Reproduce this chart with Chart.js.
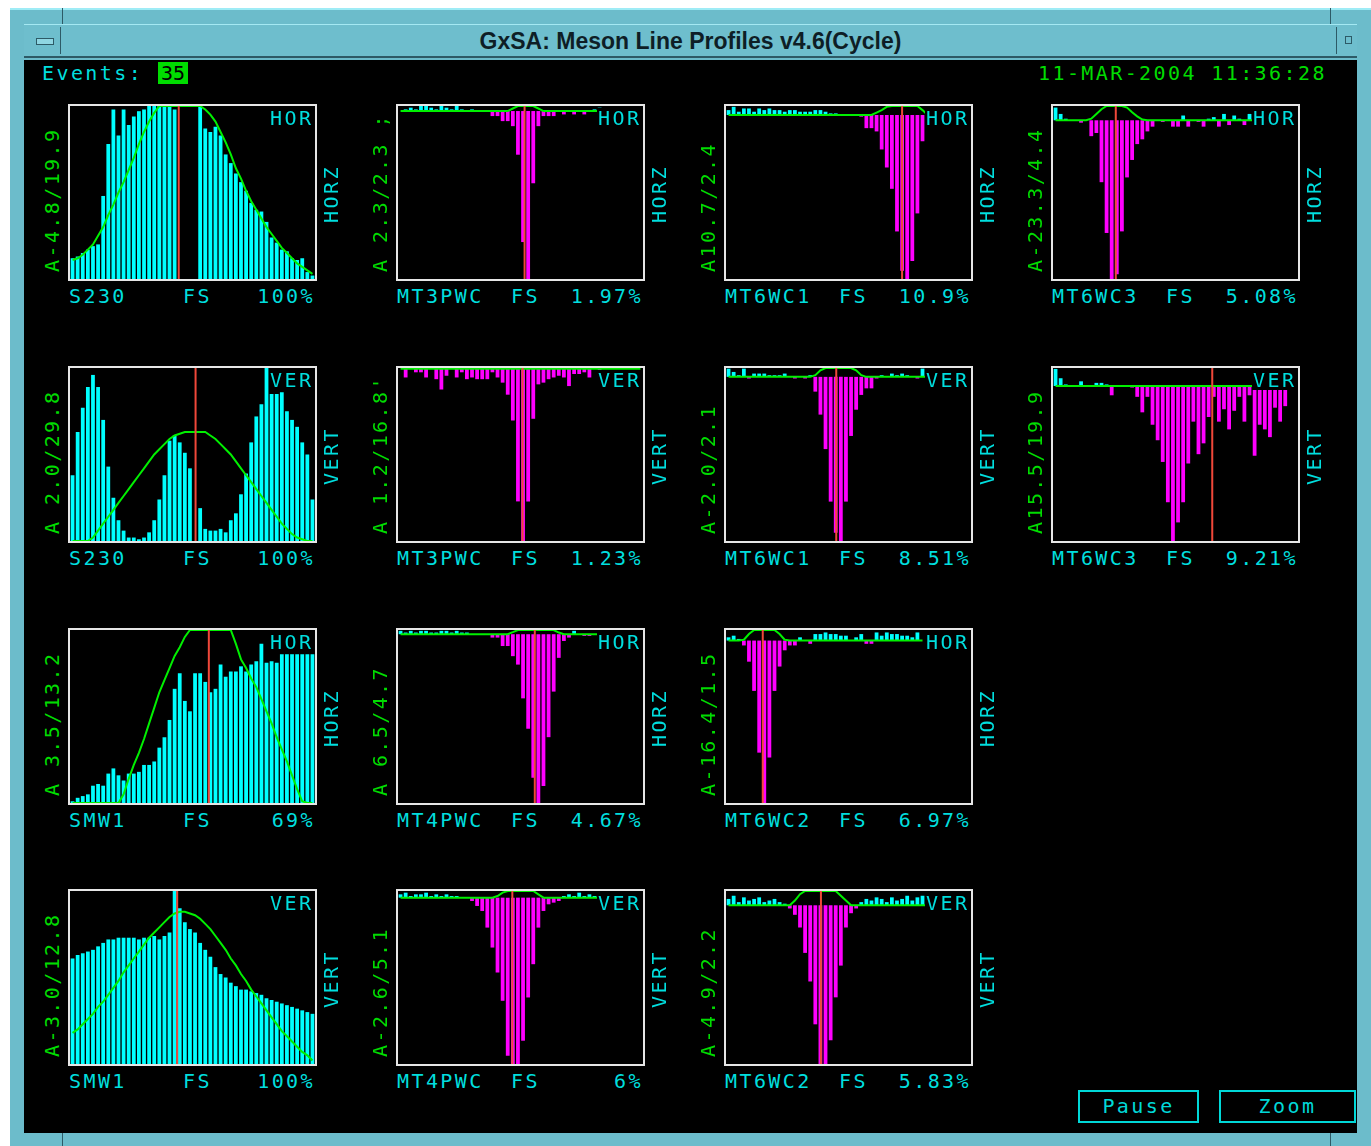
<!DOCTYPE html>
<html>
<head>
<meta charset="utf-8">
<script src="https://cdn.jsdelivr.net/npm/chart.js@4"></script>
<style>
  body { margin:0; width:1371px; height:1146px; background:#ffffff; overflow:hidden; position:relative; }
  .abs { position:absolute; }
  #frame { left:10px; top:8px; width:1361px; height:1138px; background:#6cbccb; border-top:2px solid #9fecf6; box-sizing:border-box; }
  #titlebar { left:24px; top:24px; width:1333px; height:34px; background:#6ebecd; border-top:1px solid #a4e8f2; border-bottom:2px solid #2d5a66; box-sizing:border-box;
    font:bold 23px 'Liberation Sans', Arial, sans-serif; color:#0e1e26; text-align:center; line-height:32px; }
  #client { left:24px; top:60px; width:1333px; height:1073px; background:#000; }
  .mono { font-family:'DejaVu Sans Mono', monospace; font-size:20px; line-height:20px; letter-spacing:2.4px; white-space:nowrap; }
  .cy { color:#00dede; }
  .gr { color:#00dc00; }
  .box { border:2px solid #e6e6e6; background:#000; }
  .rot { transform-origin:0 0; transform:rotate(-90deg); }
  .btn { border:2px solid #00d8d8; color:#00d8d8; text-align:center; box-sizing:border-box; line-height:28px; }
  .vline { width:1px; background:#2d5a66; }
</style>
</head>
<body>
<div id="frame" class="abs"></div>
<div class="abs vline" style="left:62px;top:8px;height:16px;"></div>
<div class="abs vline" style="left:1330px;top:8px;height:16px;"></div>
<div class="abs vline" style="left:62px;top:1133px;height:13px;"></div>
<div class="abs vline" style="left:1330px;top:1133px;height:13px;"></div>
<div id="titlebar" class="abs">GxSA: Meson Line Profiles v4.6(Cycle)</div>
<div class="abs" style="left:30px;top:27px;width:30px;height:27px;border-right:1px solid #2d5a66;"></div>
<div class="abs" style="left:36px;top:38px;width:16px;height:5px;border:1px solid #2d5a66;background:#8fd6e2;"></div>
<div class="abs" style="left:1336px;top:27px;width:1px;height:27px;background:#2d5a66;"></div>
<div class="abs" style="left:1345px;top:36px;width:5px;height:6px;border:1px solid #2d5a66;"></div>
<div id="client" class="abs"></div>

<div class="abs mono cy" style="left:42px;top:63px;">Events:</div>
<div class="abs mono" style="left:158px;top:62px;width:30px;height:22px;background:#00dc00;color:#000;letter-spacing:0;line-height:22px;text-align:center;">35</div>
<div class="abs mono gr" style="left:1038px;top:63px;">11-MAR-2004 11:36:28</div>

<div id="plots"></div>

<div class="abs mono btn" style="left:1078px;top:1090px;width:121px;height:33px;">Pause</div>
<div class="abs mono btn" style="left:1219px;top:1090px;width:137px;height:33px;">Zoom</div>

<script>
// histogram bins (48 per profile)
const bins = Array.from({ length: 48 }, (_, i) => String(i + 1));

// S230 horizontal
const s230Hor = [12,13,15,17,19,20,48,78,98,83,98,89,94,97,98,100,100,100,100,100,98,0,0,0,0,100,87,85,88,83,72,67,61,56,51,44,40,39,33,24,21,17,16,12,11,12,4,2];
const s230HorFit = [11,12,14,17,20,25,30,37,43,50,56,63,70,78,85,91,96,100,100,100,100,100,100,100,100,100,98,95,91,85,79,72,64,58,51,45,40,35,30,26,22,18,15,12,9,7,5,3];
// MT3PWC horizontal
const mt3pwcHor = [0,1,2,1,3,3,2,1,3,2,1,3,1,0,1,0,0,0,-3,-3,-6,-6,-9,-26,-78,-100,-43,-9,-3,-3,-3,0,-2,0,-2,0,-2,0,1,2,0,0,0,0,0,0,0,0];
const mt3pwcHorFit = [0,0,0,0,0,0,0,0,0,0,0,0,0,0,0,0,0,0,0,0,0,0,1.5,3,3,3,3,1.5,0,0,0,0,0,0,0,0,0,0,0,0,null,null,null,null,null,null,null,null];
// MT6WC1 horizontal
const mt6wc1Hor = [3,5,2,4,4,2,4,3,4,3,3,2,3,3,2,2,2,3,3,2,1,1,0,0,0,0,-1,-8,-8,-10,-21,-32,-45,-71,-95,-100,-89,-60,-16,0,0,0,0,0,0,0,0,0];
const mt6wc1HorFit = [0,0,0,0,0,0,0,0,0,0,0,0,0,0,0,0,0,0,0,0,0,0,0,0,0,0,0,0,0,1.5,3,5,5.5,5.5,5.5,5.5,5.5,5.5,3,0,null,null,null,null,null,null,null,null];
// MT6WC3 horizontal
const mt6wc3Hor = [8,4,1,0,0,-1.5,0,-10,-8,-39,-71,-100,-97,-70,-36,-25,-15,-12,-7,-4,0,-1,0,-4,-4,3,-4,0,-1,-4,1,2,-4,4,-3,3,1,-3,4,0,0,0,0,0,0,0,0,0];
const mt6wc3HorFit = [0,0,0,0,0,0,0,1,4,7,9,9,9,9,8,5,2.5,0.5,0,0,0,0,0,0,0,0,0,0,0,0,0,0,0,0,0,0,0,0,0,0,null,null,null,null,null,null,null,null];
// S230 vertical
const s230Ver = [38,63,77,89,96,89,70,43,25,12,6,2,2,1,2,5,12,24,38,58,61,57,51,42,0,19,7,6,6,7,5,12,16,27,39,57,72,79,100,85,85,86,75,70,66,57,50,24];
const s230VerFit = [0,0,0,0,2,6,10,14,18,22,26,30,34,38,42,46,50,53,56,59,61,62,63,63,63,63,63,61,59,56,53,50,46,42,38,34,30,26,22,18,14,10,7,4,2,1,0,0];
// MT3PWC vertical
const mt3pwcVer = [0,-5,0,-2,-2,-5,0,-6,-12,-4,0,-5,-2,-6,-5,-6,-6,-6,-2,-5,-8,-15,-30,-77,-100,-77,-29,-9,-8,-6,-5,-4,-5,-10,-3,-3,-2,-5,0,-4,0,0,0,0,0,0,0,0];
const mt3pwcVerFit = [0,0,0,0,0,0,0,0,0,0,0,0,0,0,0,0,0,0,0,0,0,0,0,0,0,0,0,0,0,0,0,0,0,0,0,0,0,0,0,0,0,0,0,0,0,0,0,0];
// MT6WC1 vertical
const mt6wc1Ver = [5,3,1,5,-1,2,2,2,1,1,1,2,0,-1,0,-1,1,-9,-23,-44,-76,-95,-100,-76,-36,-20,-11,-7,-7,-1,1,0,2,1,2,1,0,-1,5,0,0,0,0,0,0,0,0,0];
const mt6wc1VerFit = [0,0,0,0,0,0,0,0,0,0,0,0,0,0,0,0,0,1,4,5.4,5.4,5.4,5.4,5.4,5.4,4,1,0,0,0,0,0,0,0,0,0,0,0,0,0,null,null,null,null,null,null,null,null];
// MT6WC3 vertical
const mt6wc3Ver = [11,5,1,0,0,3,0,0,2,2,1,-6,0,0,0,-1,-7,-17,-7,-25,-35,-49,-75,-100,-88,-75,-50,-23,-44,-37,-20,-7,-23,-15,-28,-16,-7,-23,-6,-45,-25,-28,-33,-14,-23,-13,0,0];
const mt6wc3VerFit = [0,0,0,0,0,0,0,0,0,0,0,0,0,0,0,0,0,0,0,0,0,0,0,0,0,0,0,0,0,0,0,0,0,0,0,0,0,0,0,0,null,null,null,null,null,null,null,null];
// SMW1 horizontal
const smw1Hor = [1,3,4,5,10,11,10,17,20,16,13,17,17,18,22,22,24,32,38,48,66,75,59,53,75,75,70,64,66,80,73,76,76,79,76,80,82,92,81,82,81,86,86,86,86,86,86,86];
const smw1HorFit = [0,0,0,0,0,0,0,0,0,0,5,14,22,29,37,46,55,64,71,78,85,90,96,100,100,100,100,100,100,100,100,100,92,83,78,72,67,60,53,46,38,31,24,16,8,1,0,0];
// MT4PWC horizontal
const mt4pwcHor = [2,1,2,1,2,2,1,1,2,2,1,2,1,1,0,0,0,0,-2,-2,-7,-7,-13,-18,-38,-56,-85,-100,-90,-61,-34,-14,-4,-2,2,0,-1,-1,0,0,0,0,0,0,0,0,1,0];
const mt4pwcHorFit = [0,0,0,0,0,0,0,0,0,0,0,0,0,0,0,0,0,0,0,0,0,0,1.2,2.5,2.5,2.5,2.5,2.5,2.5,2.5,2.5,1,0,0,0,0,0,0,0,0,null,null,null,null,null,null,null,null];
// MT6WC2 horizontal
const mt6wc2Hor = [2,3,1,-3,-13,-31,-69,-100,-72,-31,-16,-6,-3,-3,2,0,-2,4,4,5,4,4,3,3,0,2,4,-2,-2,5,3,5,4,4,3,3,2,5,0,0,0,0,0,0,0,0,0,0];
const mt6wc2HorFit = [0,0,0,0.5,4,6.5,6.5,6.5,6.5,6.5,4,0.5,0,0,0,0,0,0,0,0,0,0,0,0,0,0,0,0,0,0,0,0,0,0,0,0,0,0,0,null,null,null,null,null,null,null,null,null];
// SMW1 vertical
const smw1Ver = [61,63,64,65,66,68,70,72,72,73,73,73,73,72,73,73,74,72,74,76,100,90,82,78,76,70,66,62,56,52,50,47,45,43,43,42,41,40,38,37,36,35,34,33,32,31,30,29];
const smw1VerFit = [18,20,23,26,29,33,36,40,44,48,53,57,61,65,69,73,76,79,82,85,87,88,88,87,86,84,81,78,74,70,66,61,57,52,48,43,39,35,31,27,23,19,16,13,10,7,5,2];
// MT4PWC vertical
const mt4pwcVer = [2,3,1,2,2,3,1,2,1,2,1,1,0,0,-2,-5,-8,-18,-30,-45,-62,-95,-100,-100,-86,-60,-40,-18,-8,-4,-3,-2,1,2,1,3,1,2,1,0,0,0,0,0,0,0,0,0];
const mt4pwcVerFit = [0,0,0,0,0,0,0,0,0,0,0,0,0,0,0,0,0,0,0,1,3,4,4,4,4,4,4,2,0,0,0,0,0,0,0,0,0,0,0,0,null,null,null,null,null,null,null,null];
// MT6WC2 vertical
const mt6wc2Ver = [4,6,2,5,3,4,5,2,3,4,2,1,-2,-6,-14,-30,-48,-75,-100,-100,-85,-58,-38,-14,-5,-2,2,4,3,5,4,2,5,3,4,6,3,5,6,0,0,0,0,0,0,0,0,0];
const mt6wc2VerFit = [0,0,0,0,0,0,0,0,0,0,0,0,0,3,7,9,9,9,9,9,9,9,6,3,0,0,0,0,0,0,0,0,0,0,0,0,0,0,0,0,null,null,null,null,null,null,null,null];

const histograms = [s230Hor, mt3pwcHor, mt6wc1Hor, mt6wc3Hor, s230Ver, mt3pwcVer, mt6wc1Ver, mt6wc3Ver, smw1Hor, mt4pwcHor, mt6wc2Hor, smw1Ver, mt4pwcVer, mt6wc2Ver];
const fits = [s230HorFit, mt3pwcHorFit, mt6wc1HorFit, mt6wc3HorFit, s230VerFit, mt3pwcVerFit, mt6wc1VerFit, mt6wc3VerFit, smw1HorFit, mt4pwcHorFit, mt6wc2HorFit, smw1VerFit, mt4pwcVerFit, mt6wc2VerFit];
const detectors = ['S230','MT3PWC','MT6WC1','MT6WC3','S230','MT3PWC','MT6WC1','MT6WC3','SMW1','MT4PWC','MT6WC2','SMW1','MT4PWC','MT6WC2'];
const planes = ['HOR','HOR','HOR','HOR','VER','VER','VER','VER','HOR','HOR','HOR','VER','VER','VER'];
const fullScale = ['100%','1.97%','10.9%','5.08%','100%','1.23%','8.51%','9.21%','69%','4.67%','6.97%','100%','6%','5.83%'];
const axisTags = ['A-4.8/19.9','A 2.3/2.3 ;','A10.7/2.4','A-23.3/4.4','A 2.0/29.8','A 1.2/16.8\'','A-2.0/2.1','A15.5/19.9','A 3.5/13.2','A 6.5/4.7','A-16.4/1.5','A-3.0/12.8','A-2.6/5.1','A-4.9/2.2'];
const meanBin = [20.8, 24.3, 34, 11.8, 24.1, 23.9, 21.1, 30.7, 26.7, 26.3, 6.7, 20.5, 21.9, 18.1];
const yTop = [100, 3, 5.5, 9, 100, 0.5, 5.4, 11.6, 100, 2.5, 6.5, 100, 4, 9];
const yBottom = [0, -100, -100, -100, 0, -100, -100, -100, 0, -100, -100, 0, -100, -100];

// grid placement
const gridRow = [0,0,0,0,1,1,1,1,2,2,2,3,3,3];
const gridCol = [0,1,2,3,0,1,2,3,0,1,2,0,1,2];
const colX = [68, 396, 724, 1051];
const rowY = [104, 366, 628, 889];
const boxW = 245, boxH = 173;

const meanLine = {
    id: 'meanLine',
    afterDatasetsDraw(chart, args, opts) {
        const ctx = chart.ctx;
        const x = chart.scales.x.getPixelForValue(opts.bin);
        ctx.save();
        ctx.strokeStyle = '#f0483a';
        ctx.lineWidth = 2;
        ctx.beginPath();
        ctx.moveTo(x, chart.chartArea.top);
        ctx.lineTo(x, chart.chartArea.bottom);
        ctx.stroke();
        ctx.restore();
    }
};

const plots = document.getElementById('plots');

function addDiv(cls, style, text) {
    const d = document.createElement('div');
    d.className = 'abs ' + cls;
    d.style.cssText = style;
    d.textContent = text;
    plots.appendChild(d);
    return d;
}

histograms.forEach((hist, i) => {
    const left = colX[gridCol[i]];
    const top = rowY[gridRow[i]];
    const bottom = top + boxH + 4;

    const box = addDiv('box', `left:${left}px;top:${top}px;width:${boxW}px;height:${boxH}px;`, '');
    const canvas = document.createElement('canvas');
    canvas.width = boxW;
    canvas.height = boxH;
    canvas.style.cssText = `display:block;width:${boxW}px;height:${boxH}px;`;
    box.appendChild(canvas);

    new Chart(canvas.getContext('2d'), {
        type: 'bar',
        data: {
            labels: bins,
            datasets: [{
                type: 'line',
                data: fits[i],
                borderColor: '#00f000',
                borderWidth: 2,
                pointRadius: 0,
                tension: 0,
                order: 0
            }, {
                type: 'bar',
                data: hist,
                backgroundColor: hist.map(v => v < 0 ? '#ff00ff' : '#00ffff'),
                barPercentage: 0.74,
                categoryPercentage: 1,
                order: 1
            }]
        },
        options: {
            responsive: false,
            animation: false,
            layout: { padding: 0 },
            plugins: {
                legend: { display: false },
                tooltip: { enabled: false },
                meanLine: { bin: meanBin[i] }
            },
            scales: {
                x: { display: false },
                y: { display: false, min: yBottom[i], max: yTop[i] }
            }
        },
        plugins: [meanLine]
    });

    // plane tag inside the box
    addDiv('mono cy', `left:${left + boxW - 44}px;top:${top + 4}px;background:#000;padding-left:1px;`, planes[i]);
    // bottom labels
    addDiv('mono cy', `left:${left + 1}px;top:${bottom + 5}px;`, detectors[i]);
    addDiv('mono cy', `left:${left + 115}px;top:${bottom + 5}px;`, 'FS');
    addDiv('mono cy', `left:${left + boxW - 120}px;top:${bottom + 5}px;width:122px;text-align:right;`, fullScale[i]);
    // rotated axis tags
    addDiv('mono gr rot', `left:${left - 26}px;top:${bottom - 9}px;`, axisTags[i]);
    addDiv('mono cy rot', `left:${left + 253}px;top:${top + 90 + 50}px;width:100px;text-align:center;`, planes[i] === 'HOR' ? 'HORZ' : 'VERT');
});
</script>
</body>
</html>
